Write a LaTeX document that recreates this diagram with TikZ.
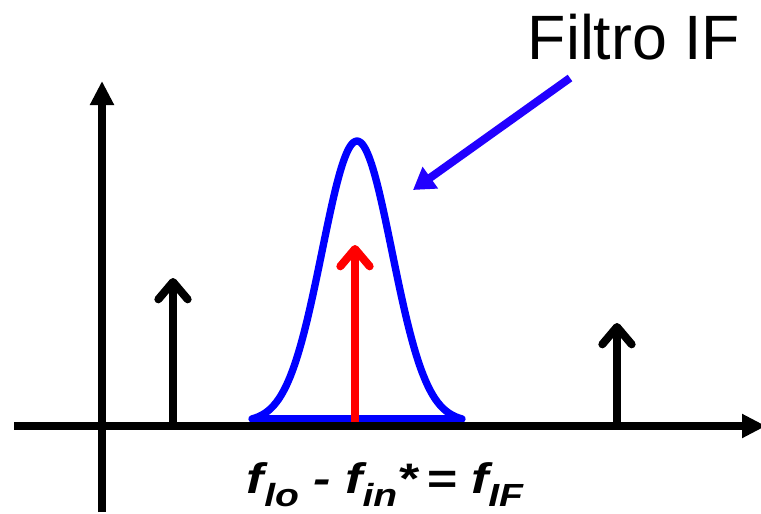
\documentclass[tikz,border=0pt]{standalone}
\usepackage{fontspec}
\setmainfont{Liberation Sans}
\usepackage{tikz}
\usetikzlibrary{arrows.meta}
\definecolor{filtroazul}{RGB}{0,0,255}
\definecolor{flechaazul}{RGB}{34,0,255}
\definecolor{tonorojo}{RGB}{255,0,0}
\newcommand{\subidx}[1]{\raisebox{-0.32em}{\fontsize{24}{26}\selectfont #1}}

\begin{document}
\begin{tikzpicture}[x=0.75pt,y=-0.75pt,
    eje/.style={line width=6pt,-{Triangle[length=18pt,width=17pt]}},
    tono/.style={line width=6pt,-{Straight Barb[length=13pt,width=22pt,round]}}]
    \useasboundingbox (0,0) rectangle (761,514);
    % Campana del filtro IF
    \draw[filtroazul,line width=5.5pt,line join=round]
      plot[domain=-105:105,samples=80,smooth] ({357+\x},{422-281*exp(-(\x*\x)/2450)}) -- cycle;
    % Tonos
    \draw[tono] (173,426) -- (173,278);
    \draw[tono] (617,426) -- (617,323);
    \draw[tono,tonorojo] (355,424) -- (355,245);
    % Ejes
    \draw[eje] (14,426) -- (766,426);
    \draw[eje] (102,512) -- (102,81);
    % Etiqueta del filtro
    \node[font=\fontsize{47}{50}\selectfont,anchor=base] (filtro) at (634,60) {Filtro IF};
    \coordinate (inicio) at (570,78);
    \coordinate (campana) at (413,190);
    \draw[flechaazul,line width=6pt,-{Triangle[length=16pt,width=19pt]}] (inicio) -- (campana);
    % Frecuencia intermedia
    \node[font=\fontsize{32}{36}\selectfont\bfseries\itshape,anchor=base,inner sep=0pt] (formula) at (385,493)
      {\scalebox{1.22}[1]{f\subidx{lo} - f\subidx{in}*\,= f\subidx{IF}}};
\end{tikzpicture}
\end{document}
